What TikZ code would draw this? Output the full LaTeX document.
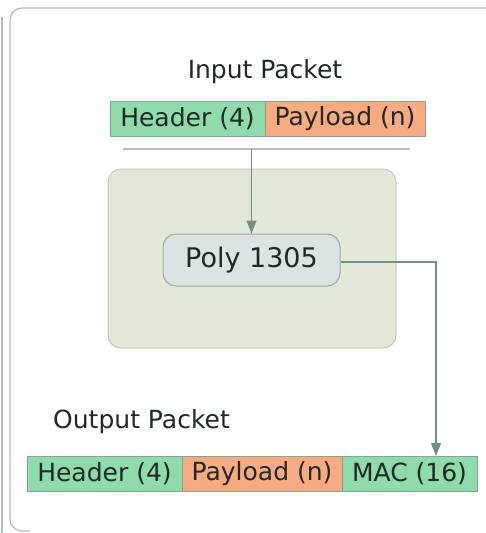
\documentclass[tikz,border=0pt]{standalone}
\usepackage{fontspec}
\setmainfont{DejaVu Sans}
\usetikzlibrary{arrows.meta}
\definecolor{hdr}{HTML}{8FDBAB}
\definecolor{pay}{HTML}{F8AB80}
\definecolor{barline}{HTML}{7FA890}
\definecolor{conn}{HTML}{6F8F88}
\definecolor{frame}{HTML}{B4BEBA}
\definecolor{bigfill}{HTML}{E3E8D8}
\definecolor{bigline}{HTML}{C3CBBC}
\definecolor{polyfill}{HTML}{DCE3E3}
\definecolor{polyline}{HTML}{9EAAA6}
\definecolor{txt}{HTML}{1E2A24}
\tikzset{
  field/.style={draw=barline, line width=0.8pt, minimum height=35pt, inner sep=0pt, text=txt, font=\fontsize{25}{29}\selectfont},
  hfield/.style={field, fill=hdr},
  pfield/.style={field, fill=pay},
  title/.style={text=txt, font=\fontsize{25}{29}\selectfont, inner sep=0pt},
  conn/.style={draw=conn, line width=1.3pt},
  arr/.style={conn, -{Triangle[length=13pt,width=10pt]}},
}
\begin{document}
\begin{tikzpicture}[x=1pt,y=-1pt]
\useasboundingbox (0,0) rectangle (486,533);
\fill[white] (0,0) rectangle (486,533);
% outer frame (cropped)
\draw[frame, line width=1.2pt, rounded corners=12pt] (500,8) -- (10,8) -- (10,531) -- (30,531);
\draw[frame, line width=1.2pt] (2,17) -- (2,533);
% input packet
\node[title] (intitle) at (265,72) {Input Packet};
\node[hfield, minimum width=155pt] (inh) at (187.5,118.5) {Header (4)};
\node[pfield, minimum width=160pt] (inp) at (345,118.5) {Payload (n)};
\coordinate (sepL) at (123,149);
\coordinate (sepR) at (410,149);
\coordinate (sepM) at (251.5,149);
\draw[frame, line width=1.3pt] (sepL) -- (sepR);
% processing box
\node[draw=bigline, fill=bigfill, line width=1pt, rounded corners=13pt, minimum width=288pt, minimum height=179pt] (big) at (252,258.5) {};
\node[draw=polyline, fill=polyfill, line width=1pt, rounded corners=13pt, minimum width=177pt, minimum height=52pt, text=txt, font=\fontsize{27}{31}\selectfont, inner sep=0pt] (poly) at (251.5,260) {Poly 1305};
\draw[arr] (sepM) -- (poly.north);
% output packet
\node[title, anchor=west] (outtitle) at (53,422) {Output Packet};
\node[hfield, minimum width=155pt] (outh) at (104.5,474) {Header (4)};
\node[pfield, minimum width=160pt] (outp) at (262,474) {Payload (n)};
\node[hfield, minimum width=135pt] (outm) at (409.5,474) {MAC (16)};
\coordinate (bend) at (436,262);
\coordinate (macin) at (436,456);
\draw[arr] (poly.east |- bend) -- (bend) -- (macin);
\end{tikzpicture}
\end{document}
